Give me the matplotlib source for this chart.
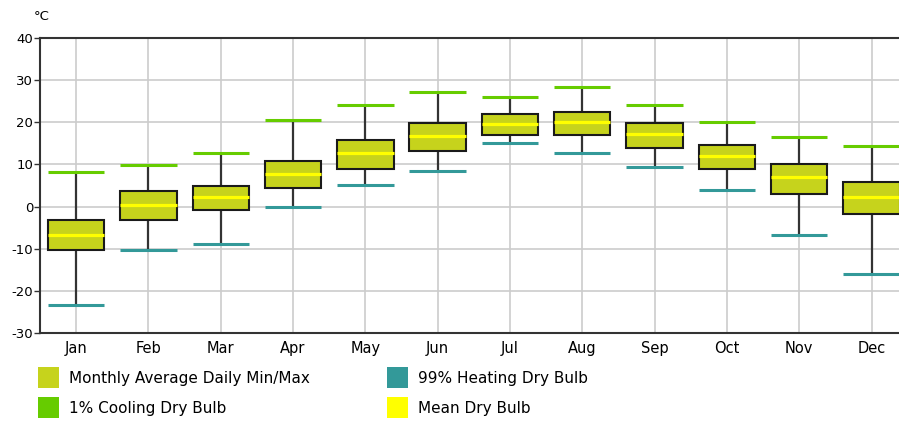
import matplotlib.pyplot as plt
from matplotlib.patches import Rectangle
import numpy as np

plt.rcParams["axes.unicode_minus"] = False

months = ["Jan", "Feb", "Mar", "Apr", "May", "Jun", "Jul", "Aug", "Sep", "Oct", "Nov", "Dec"]
avg_max = [-3.3, 3.7, 4.9, 10.7, 15.7, 19.8, 21.9, 22.4, 19.8, 14.6, 10.0, 5.8]
avg_min = [-10.2, -3.3, -0.8, 4.5, 9.0, 13.2, 17.0, 17.0, 14.0, 9.0, 2.9, -1.7]
mean_db = [-6.8, 0.3, 2.3, 7.7, 12.6, 16.8, 19.6, 20.1, 17.2, 11.9, 6.9, 2.3]
cooling_1 = [8.1, 9.8, 12.6, 20.5, 24.2, 27.1, 25.9, 28.3, 24.2, 20.1, 16.4, 14.4]
heating_99 = [-23.3, -10.2, -8.8, -0.2, 5.2, 8.5, 15.1, 12.6, 9.4, 3.9, -6.8, -16.0]

c_box = "#c6d31c"
c_cool = "#66cc00"
c_heat = "#339999"
c_mean = "#ffff00"

W, H = 899, 425
fig = plt.figure(figsize=(W / 100, H / 100), dpi=100)
ax = fig.add_axes([40 / W, (H - 333) / H, (W - 40) / W, 295 / H])

x = np.arange(len(months))
w = 0.78

ax.vlines(x, heating_99, cooling_1, color="#333333", lw=1.6, zorder=2)
ax.bar(x, np.array(avg_max) - np.array(avg_min), bottom=avg_min, width=w,
       color=c_box, edgecolor="#1a1a1a", lw=1.5, zorder=3)
ax.hlines(mean_db, x - w / 2, x + w / 2, color=c_mean, lw=2.3, zorder=4)
ax.hlines(cooling_1, x - w / 2, x + w / 2, color=c_cool, lw=2.2, zorder=4)
ax.hlines(heating_99, x - w / 2, x + w / 2, color=c_heat, lw=2.2, zorder=4)

ax.set_xlim(-0.5, 11.38)
ax.set_ylim(-30, 40)
ax.set_yticks(range(-30, 41, 10))
ax.set_xticks(x)
ax.set_xticklabels(months, fontsize=10.5)
ax.tick_params(axis="x", length=0, pad=6)
ax.tick_params(axis="y", length=4, width=1, labelsize=9.5, pad=1, color="#333333")
ax.grid(True, color="#cccccc", lw=1.2, zorder=0)
ax.set_axisbelow(True)
for s in ["left", "bottom", "top"]:
    ax.spines[s].set_color("#333333")
    ax.spines[s].set_linewidth(1.5)
ax.spines["right"].set_visible(False)

fig.text(34 / W, 1 - 16 / H, "°C", fontsize=9.5, va="center", ha="left")

legend_items = [
    (38, 378, c_box, "Monthly Average Daily Min/Max"),
    (387, 378, c_heat, "99% Heating Dry Bulb"),
    (38, 408, c_cool, "1% Cooling Dry Bulb"),
    (387, 408, c_mean, "Mean Dry Bulb"),
]
for lx, ly, col, label in legend_items:
    fig.add_artist(Rectangle((lx / W, 1 - (ly + 10) / H), 21 / W, 21 / H,
                             transform=fig.transFigure, facecolor=col, edgecolor="none"))
    fig.text((lx + 31) / W, 1 - ly / H, label, fontsize=11, va="center", ha="left")

fig.savefig("out.png", dpi=100)
